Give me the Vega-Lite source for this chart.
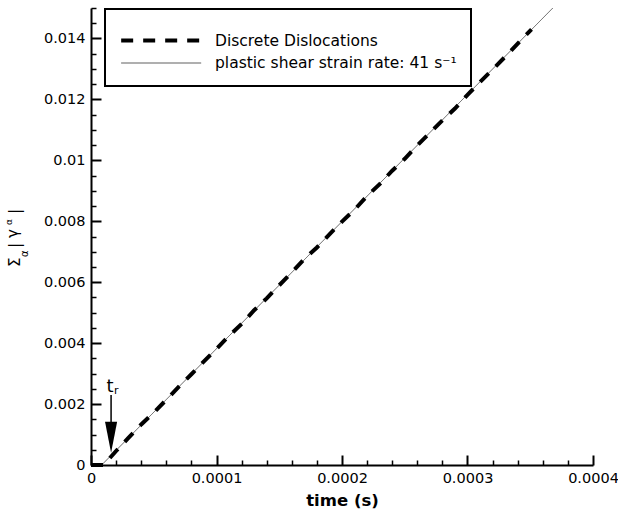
{
  "$schema": "https://vega.github.io/schema/vega-lite/v6.json",
  "width": 502,
  "height": 457,
  "autosize": {"type": "none"},
  "padding": {"left": 91, "top": 8, "right": 25, "bottom": 50},
  "background": "white",
  "config": {
    "view": {"stroke": null},
    "font": "DejaVu Sans",
    "axis": {"grid": false, "domainColor": "black", "domainWidth": 2, "tickColor": "black", "labelColor": "black", "labelFont": "DejaVu Sans", "labelFontSize": 14.5, "titleColor": "black", "titleFont": "DejaVu Sans"},
    "legend": {"strokeWidth": 2}
  },
  "resolve": {"axis": {"x": "independent", "y": "independent"}},
  "layer": [
    {
      "data": {"values": [
        {"time": 0.0000085, "strain": 0, "series": "plastic shear strain rate: 41 s⁻¹"},
        {"time": 0.000368, "strain": 0.015, "series": "plastic shear strain rate: 41 s⁻¹"}
      ]},
      "mark": {"type": "line"},
      "encoding": {
        "x": {"field": "time", "type": "quantitative",
          "scale": {"domain": [0, 0.0004], "nice": false, "zero": false},
          "axis": {"orient": "bottom", "values": [0, 0.0001, 0.0002, 0.0003, 0.0004], "format": "~g",
            "labelFlush": false, "labelOverlap": false, "ticks": false, "labelPadding": 6,
            "title": "time (s)", "titleFontSize": 16.5, "titleFontWeight": "bold", "titlePadding": 8}},
        "y": {"field": "strain", "type": "quantitative",
          "scale": {"domain": [0, 0.015], "nice": false, "zero": false},
          "axis": {"orient": "left", "values": [0, 0.002, 0.004, 0.006, 0.008, 0.01, 0.012, 0.014], "format": "~g",
            "labelFlush": false, "labelOverlap": false, "ticks": false, "labelPadding": 6, "title": null}},
        "color": {"field": "series", "type": "nominal",
          "scale": {"domain": ["Discrete Dislocations", "plastic shear strain rate: 41 s⁻¹"], "range": ["black", "#555555"]},
          "legend": {"title": " ", "titleFontSize": 2, "titlePadding": 0, "orient": "none", "legendX": 14, "legendY": 1, "direction": "vertical",
            "symbolType": "M-1,0L5,0", "symbolSize": 711, "labelFontSize": 15.5, "labelFont": "DejaVu Sans", "labelColor": "black",
            "labelOffset": 65, "padding": 14, "rowPadding": 0, "strokeColor": "black", "fillColor": "white", "labelLimit": 400}},
        "strokeDash": {"field": "series", "type": "nominal",
          "scale": {"domain": ["Discrete Dislocations", "plastic shear strain rate: 41 s⁻¹"], "range": [[12, 10], [1, 0]]}},
        "strokeWidth": {"field": "series", "type": "nominal",
          "scale": {"domain": ["Discrete Dislocations", "plastic shear strain rate: 41 s⁻¹"], "range": [4, 1]}}
      }
    },
    {
      "data": {"values": [
        {"time": 0, "strain": 0, "series": "Discrete Dislocations"},
        {"time": 0.00001, "strain": 0, "series": "Discrete Dislocations"},
        {"time": 0.00002, "strain": 0.00046, "series": "Discrete Dislocations"},
        {"time": 0.00003, "strain": 0.0009, "series": "Discrete Dislocations"},
        {"time": 0.00004, "strain": 0.00133, "series": "Discrete Dislocations"},
        {"time": 0.00005, "strain": 0.00172, "series": "Discrete Dislocations"},
        {"time": 0.00006, "strain": 0.00214, "series": "Discrete Dislocations"},
        {"time": 0.00007, "strain": 0.00257, "series": "Discrete Dislocations"},
        {"time": 0.00008, "strain": 0.00298, "series": "Discrete Dislocations"},
        {"time": 0.00009, "strain": 0.0034, "series": "Discrete Dislocations"},
        {"time": 0.0001, "strain": 0.00381, "series": "Discrete Dislocations"},
        {"time": 0.00011, "strain": 0.00424, "series": "Discrete Dislocations"},
        {"time": 0.00012, "strain": 0.00463, "series": "Discrete Dislocations"},
        {"time": 0.00013, "strain": 0.00508, "series": "Discrete Dislocations"},
        {"time": 0.00014, "strain": 0.00547, "series": "Discrete Dislocations"},
        {"time": 0.00015, "strain": 0.0059, "series": "Discrete Dislocations"},
        {"time": 0.00016, "strain": 0.00632, "series": "Discrete Dislocations"},
        {"time": 0.00017, "strain": 0.00676, "series": "Discrete Dislocations"},
        {"time": 0.00018, "strain": 0.00714, "series": "Discrete Dislocations"},
        {"time": 0.00019, "strain": 0.00757, "series": "Discrete Dislocations"},
        {"time": 0.0002, "strain": 0.00799, "series": "Discrete Dislocations"},
        {"time": 0.00021, "strain": 0.00838, "series": "Discrete Dislocations"},
        {"time": 0.00022, "strain": 0.00883, "series": "Discrete Dislocations"},
        {"time": 0.00023, "strain": 0.00922, "series": "Discrete Dislocations"},
        {"time": 0.00024, "strain": 0.00966, "series": "Discrete Dislocations"},
        {"time": 0.00025, "strain": 0.01005, "series": "Discrete Dislocations"},
        {"time": 0.00026, "strain": 0.01049, "series": "Discrete Dislocations"},
        {"time": 0.00027, "strain": 0.0109, "series": "Discrete Dislocations"},
        {"time": 0.00028, "strain": 0.01131, "series": "Discrete Dislocations"},
        {"time": 0.00029, "strain": 0.0117, "series": "Discrete Dislocations"},
        {"time": 0.0003, "strain": 0.01215, "series": "Discrete Dislocations"},
        {"time": 0.00031, "strain": 0.01257, "series": "Discrete Dislocations"},
        {"time": 0.00032, "strain": 0.01298, "series": "Discrete Dislocations"},
        {"time": 0.00033, "strain": 0.0134, "series": "Discrete Dislocations"},
        {"time": 0.00034, "strain": 0.01383, "series": "Discrete Dislocations"},
        {"time": 0.000351, "strain": 0.0143, "series": "Discrete Dislocations"}
      ]},
      "mark": {"type": "line"},
      "encoding": {
        "x": {"field": "time", "type": "quantitative",
          "axis": {"orient": "top", "offset": -457, "values": [0.00002, 0.00004, 0.00006, 0.00008, 0.00012, 0.00014, 0.00016, 0.00018, 0.00022, 0.00024, 0.00026, 0.00028, 0.00032, 0.00034, 0.00036, 0.00038],
            "labels": false, "domain": false, "tickSize": 5, "tickWidth": 1.5, "title": null}},
        "y": {"field": "strain", "type": "quantitative",
          "axis": {"orient": "right", "offset": -502, "values": [0.0005, 0.001, 0.0015, 0.0025, 0.003, 0.0035, 0.0045, 0.005, 0.0055, 0.0065, 0.007, 0.0075, 0.0085, 0.009, 0.0095, 0.0105, 0.011, 0.0115, 0.0125, 0.013, 0.0135, 0.0145, 0.015],
            "labels": false, "domain": false, "tickSize": 5, "tickWidth": 1.5, "title": null}},
        "color": {"field": "series", "type": "nominal"},
        "strokeDash": {"field": "series", "type": "nominal"},
        "strokeWidth": {"field": "series", "type": "nominal"}
      }
    },
    {
      "data": {"values": [{"time": 0.000016, "top": 0.0023, "bottom": 0.0012}]},
      "mark": {"type": "rule", "color": "black", "strokeWidth": 1.5},
      "encoding": {
        "x": {"field": "time", "type": "quantitative",
          "axis": {"orient": "top", "offset": -457, "values": [0, 0.0001, 0.0002, 0.0003, 0.0004], "labels": false, "domain": false, "tickSize": 10, "tickWidth": 2, "title": null}},
        "y": {"field": "top", "type": "quantitative",
          "axis": {"orient": "right", "offset": -502, "values": [0, 0.002, 0.004, 0.006, 0.008, 0.01, 0.012, 0.014], "labels": false, "domain": false, "tickSize": 10, "tickWidth": 2, "title": null}},
        "y2": {"field": "bottom"}}
    },
    {
      "data": {"values": [{"time": 0.000016, "strain": 0.000912}]},
      "mark": {"type": "point", "shape": "M-0.39,-1L0.39,-1L0,1Z", "filled": true, "color": "black", "opacity": 1, "size": 961},
      "encoding": {"x": {"field": "time", "type": "quantitative", "axis": null}, "y": {"field": "strain", "type": "quantitative", "axis": null}}
    },
    {
      "data": {"values": [{"time": 0.000016, "strain": 0.00241}]},
      "layer": [
        {"mark": {"type": "text", "text": "t", "fontSize": 18, "align": "center", "baseline": "alphabetic", "dx": -1, "color": "black", "font": "DejaVu Sans"},
         "encoding": {"x": {"field": "time", "type": "quantitative", "axis": null}, "y": {"field": "strain", "type": "quantitative", "axis": null}}},
        {"mark": {"type": "text", "text": "r", "fontSize": 11, "align": "left", "baseline": "alphabetic", "dx": 3, "dy": 2, "color": "black", "font": "DejaVu Sans"},
         "encoding": {"x": {"field": "time", "type": "quantitative", "axis": null}, "y": {"field": "strain", "type": "quantitative", "axis": null}}}
      ]
    },
    {
      "data": {"values": [{"time": -0.0000566, "strain": 0.0065}]},
      "layer": [
        {"mark": {"type": "text", "text": "Σ", "fontSize": 15, "angle": 270, "align": "left", "baseline": "alphabetic", "color": "black", "font": "DejaVu Sans"},
         "encoding": {"x": {"field": "time", "type": "quantitative", "axis": null}, "y": {"field": "strain", "type": "quantitative", "axis": null}}},
        {"mark": {"type": "text", "text": "α", "fontSize": 10, "angle": 270, "align": "left", "baseline": "alphabetic", "dx": 10, "dy": 8, "color": "black", "font": "DejaVu Sans"},
         "encoding": {"x": {"field": "time", "type": "quantitative", "axis": null}, "y": {"field": "strain", "type": "quantitative", "axis": null}}},
        {"mark": {"type": "text", "text": "|", "fontSize": 15, "angle": 270, "align": "left", "baseline": "alphabetic", "dx": 19, "color": "black", "font": "DejaVu Sans"},
         "encoding": {"x": {"field": "time", "type": "quantitative", "axis": null}, "y": {"field": "strain", "type": "quantitative", "axis": null}}},
        {"mark": {"type": "text", "text": "γ", "fontSize": 15, "angle": 270, "align": "left", "baseline": "alphabetic", "dx": 29, "dy": -2, "color": "black", "font": "DejaVu Sans"},
         "encoding": {"x": {"field": "time", "type": "quantitative", "axis": null}, "y": {"field": "strain", "type": "quantitative", "axis": null}}},
        {"mark": {"type": "text", "text": "α", "fontSize": 9, "angle": 270, "align": "left", "baseline": "alphabetic", "dx": 42, "dy": -8, "color": "black", "font": "DejaVu Sans"},
         "encoding": {"x": {"field": "time", "type": "quantitative", "axis": null}, "y": {"field": "strain", "type": "quantitative", "axis": null}}},
        {"mark": {"type": "text", "text": "|", "fontSize": 15, "angle": 270, "align": "left", "baseline": "alphabetic", "dx": 53, "color": "black", "font": "DejaVu Sans"},
         "encoding": {"x": {"field": "time", "type": "quantitative", "axis": null}, "y": {"field": "strain", "type": "quantitative", "axis": null}}}
      ]
    }
  ]
}
